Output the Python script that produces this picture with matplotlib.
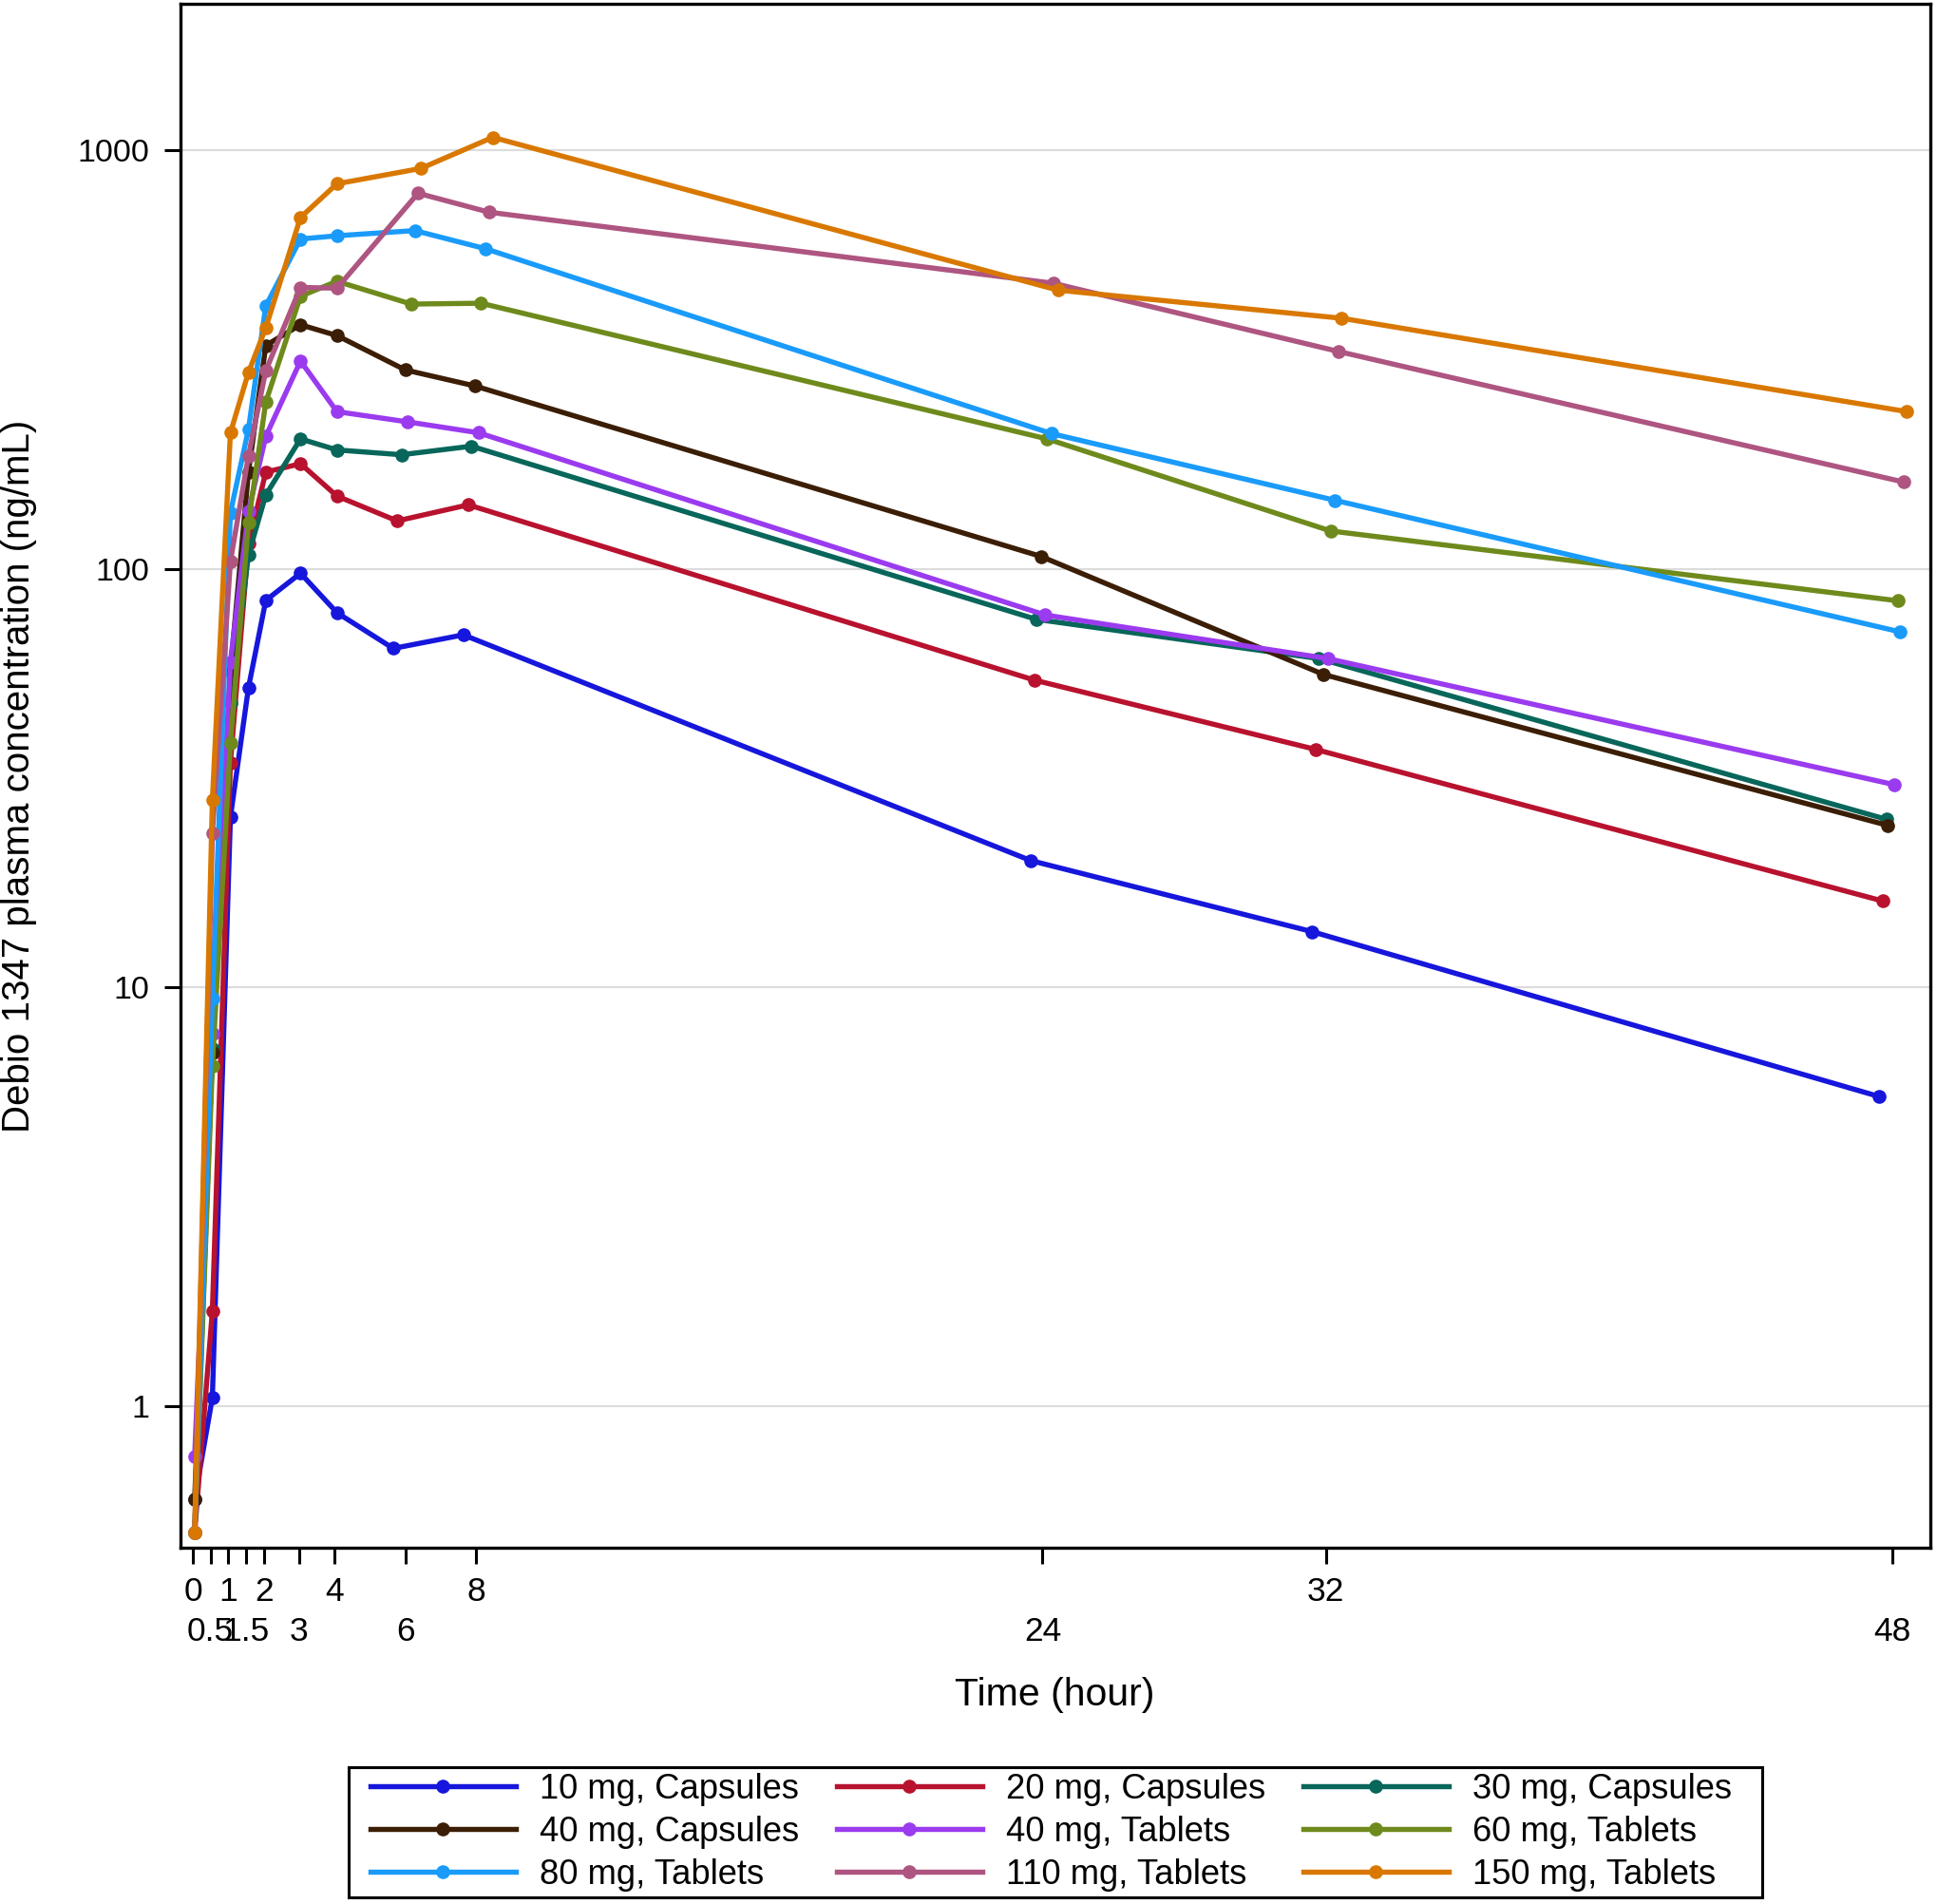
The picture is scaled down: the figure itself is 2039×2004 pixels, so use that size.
import matplotlib
matplotlib.use("Agg")
import matplotlib.pyplot as plt
from matplotlib.patches import Rectangle

plt.rcParams['font.family'] = ['Liberation Sans', 'DejaVu Sans']

# ---------------- data ----------------
labels = ["10 mg, Capsules", "20 mg, Capsules", "30 mg, Capsules",
          "40 mg, Capsules", "40 mg, Tablets", "60 mg, Tablets",
          "80 mg, Tablets", "110 mg, Tablets", "150 mg, Tablets"]
colors = ["#1616DC", "#B8122E", "#08665A", "#3B1E05", "#9B3BEF",
          "#6F8A1C", "#1A9BFA", "#AE5581", "#D97800"]

# mean sampling times (h) as plotted
t_early = [0.05, 0.55, 1.06, 1.57, 2.06, 3.04, 4.07]
t_late_10c = [5.66, 7.64, 23.67, 31.62, 47.62]
t_late_20c = [5.77, 7.78, 23.77, 31.73, 47.73]
t_late_30c = [5.89, 7.87, 23.82, 31.81, 47.85]
t_late_40c = [6.00, 7.96, 23.95, 31.94, 47.87]
t_late_40t = [6.07, 8.07, 24.08, 32.06, 48.07]
t_late_60t = [6.17, 8.14, 24.13, 32.14, 48.17]
t_late_80t = [6.27, 8.27, 24.26, 32.26, 48.21]
t_late_110t = [6.36, 8.37, 24.30, 32.35, 48.32]
t_late_150t = [6.44, 8.47, 24.44, 32.44, 48.42]

# mean concentrations (ng/mL)
c_10c = [0.6, 1.05, 25.5, 52, 84, 97.5, 78.5, 64.5, 69.5, 20.1, 13.6, 5.5]
c_20c = [0.5, 1.69, 34.4, 115, 170, 178, 149, 130, 142, 54.2, 37, 16.1]
c_30c = [0.5, 7.14, 47.8, 108, 150, 204, 192, 187, 196, 75.7, 61, 25.2]
c_40c = [0.6, 7.0, 57, 170, 341, 382, 360, 298, 273, 107, 55.9, 24.4]
c_40t = [0.76, 7.75, 59.9, 137, 207, 313, 237, 224, 211, 77.5, 61, 30.5]
c_60t = [0.5, 6.5, 38.4, 129, 250, 447, 485, 428, 430, 204, 123, 83.8]
c_80t = [0.5, 9.4, 136, 215, 424, 612, 623, 641, 580, 210, 145.6, 70.7]
c_110t = [0.5, 23.4, 104, 186, 297, 469, 467, 787, 709, 480, 330, 161]
c_150t = [0.5, 28, 211, 294, 376, 689, 829, 902, 1070, 462, 396, 237]

t_late = [t_late_10c, t_late_20c, t_late_30c, t_late_40c, t_late_40t,
          t_late_60t, t_late_80t, t_late_110t, t_late_150t]
concs = [c_10c, c_20c, c_30c, c_40c, c_40t, c_60t, c_80t, c_110t, c_150t]

xticks_row1 = [0, 1, 2, 4, 8, 32]
xticks_row2 = [0.5, 1.5, 3, 6, 24, 48]
yticks = [1, 10, 100, 1000]

# ---------------- figure ----------------
W, H = 2040, 2004
fig = plt.figure(figsize=(W / 100, H / 100), dpi=100)
L, R, T, B = 190, 2032, 4, 1629
ax = fig.add_axes([L / W, 1 - B / H, (R - L) / W, (B - T) / H])

handles = []
for lab, col, tl, c in zip(labels, colors, t_late, concs):
    h, = ax.plot(t_early + tl, c, color=col, lw=3.9, marker='o', ms=9.5,
                 mfc=col, mec=col, label=lab, solid_joinstyle='round')
    handles.append(h)

ax.set_yscale('log')
ax.set_ylim(0.4605, 2229)
ax.set_xlim(-0.35, 49.08)

ax.set_yticks(yticks)
ax.set_yticklabels([str(v) for v in yticks])
ax.yaxis.set_minor_locator(matplotlib.ticker.NullLocator())
ax.grid(axis='y', which='major', color='#dcdcdc', lw=1.6)
ax.set_axisbelow(True)

ax.set_xticks(xticks_row1)
ax.set_xticklabels([str(v) for v in xticks_row1])
ax.set_xticks(xticks_row2, minor=True)
ax.set_xticklabels([str(v) for v in xticks_row2], minor=True)

ax.tick_params(axis='x', which='major', length=12.5, width=2.2, pad=9,
               labelsize=25.5, direction='out')
ax.tick_params(axis='x', which='minor', length=12.5, width=2.2, pad=39,
               labelsize=25.5, direction='out')
ax.tick_params(axis='y', which='major', length=12.5, width=2.2, pad=11,
               labelsize=24.5, direction='out')

for s in ax.spines.values():
    s.set_linewidth(2.4)
    s.set_color('black')

fig.text(1110 / W, 1 - 1784 / H, "Time (hour)", ha='center', va='center',
         fontsize=29.5)
fig.text(20 / W, 1 - 817 / H, "Debio 1347 plasma concentration (ng/mL)",
         ha='center', va='center', rotation=90, fontsize=29)

# legend frame drawn separately
fig.patches.append(Rectangle((367 / W, 1 - 1997 / H), (1855 - 367) / W,
                             (1997 - 1860) / H, transform=fig.transFigure,
                             fill=False, edgecolor='black', lw=2.2))

order = [0, 3, 6, 1, 4, 7, 2, 5, 8]
leg = fig.legend([handles[i] for i in order], [labels[i] for i in order],
                 loc='upper left', bbox_to_anchor=(390 / W, 1 - 1866 / H),
                 bbox_transform=fig.transFigure, ncol=3, fontsize=26.2,
                 frameon=False, numpoints=1,
                 handlelength=4.2, handletextpad=0.7, columnspacing=1.08,
                 labelspacing=0.27, borderpad=0.0, borderaxespad=0)

fig.savefig("out.png", dpi=100)
